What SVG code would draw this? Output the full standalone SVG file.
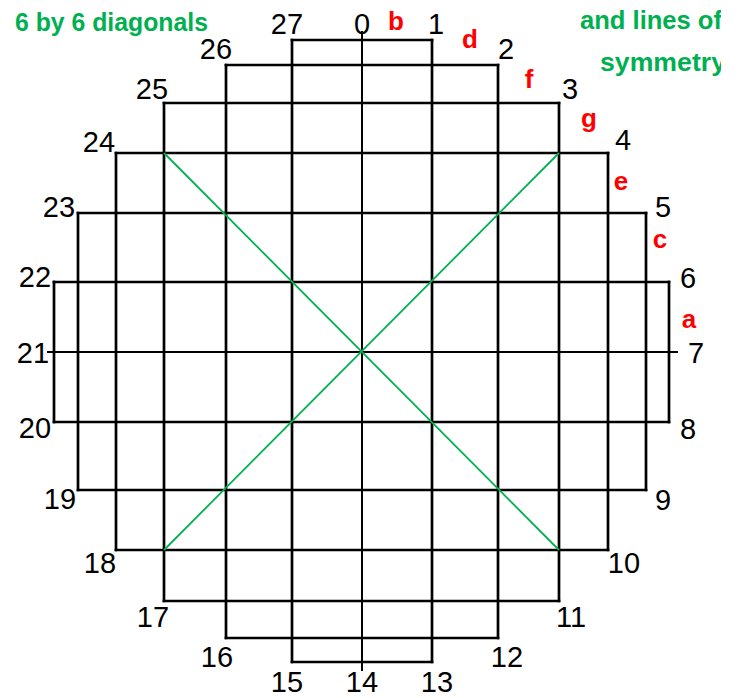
<svg xmlns="http://www.w3.org/2000/svg" width="743" height="698" viewBox="0 0 743 698">
<style>
.g{stroke:#000;stroke-width:2.7;stroke-linecap:square;fill:none}
.c{stroke:#000;stroke-width:2;fill:none}
.d{stroke:#00B050;stroke-width:1.8;fill:none}
.n{font-family:"Liberation Sans",Arial,sans-serif;font-size:29px;fill:#000;text-anchor:middle}
.r{font-family:"Liberation Sans",Arial,sans-serif;font-size:26px;font-weight:bold;fill:#FF0000;text-anchor:middle}
.t{font-family:"Liberation Sans",Arial,sans-serif;font-size:26px;font-weight:bold;fill:#00B050}
</style>
<defs><clipPath id="clipR"><rect x="0" y="0" width="721" height="698"/></clipPath></defs>
<rect width="743" height="698" fill="#fff"/>
<g id="grid">
<line class="g" x1="54" y1="282" x2="54" y2="422"/>
<line class="g" x1="78" y1="213" x2="78" y2="490"/>
<line class="g" x1="116" y1="153" x2="116" y2="550"/>
<line class="g" x1="164" y1="103" x2="164" y2="601"/>
<line class="g" x1="226" y1="65" x2="226" y2="638"/>
<line class="g" x1="292" y1="40" x2="292" y2="662"/>
<line class="g" x1="432" y1="40" x2="432" y2="662"/>
<line class="g" x1="498" y1="65" x2="498" y2="638"/>
<line class="g" x1="559" y1="103" x2="559" y2="601"/>
<line class="g" x1="608" y1="153" x2="608" y2="550"/>
<line class="g" x1="646" y1="213" x2="646" y2="490"/>
<line class="g" x1="669" y1="282" x2="669" y2="422"/>
<line class="g" x1="292" y1="40" x2="432" y2="40"/>
<line class="g" x1="226" y1="65" x2="498" y2="65"/>
<line class="g" x1="164" y1="103" x2="559" y2="103"/>
<line class="g" x1="116" y1="153" x2="608" y2="153"/>
<line class="g" x1="78" y1="213" x2="646" y2="213"/>
<line class="g" x1="54" y1="282" x2="669" y2="282"/>
<line class="g" x1="54" y1="422" x2="669" y2="422"/>
<line class="g" x1="78" y1="490" x2="646" y2="490"/>
<line class="g" x1="116" y1="550" x2="608" y2="550"/>
<line class="g" x1="164" y1="601" x2="559" y2="601"/>
<line class="g" x1="226" y1="638" x2="498" y2="638"/>
<line class="g" x1="292" y1="662" x2="432" y2="662"/>
</g>
<g id="symmetry-lines">
<line class="c" x1="362" y1="31" x2="362" y2="671"/>
<line class="c" x1="47" y1="352" x2="678" y2="352"/>
<line class="d" x1="164" y1="153" x2="559" y2="550"/>
<line class="d" x1="559" y1="153" x2="164" y2="550"/>
</g>
<g id="numbers">
<text class="n" x="362" y="34">0</text>
<text class="n" x="436" y="34">1</text>
<text class="n" x="506" y="59">2</text>
<text class="n" x="570" y="99">3</text>
<text class="n" x="623" y="150">4</text>
<text class="n" x="663" y="217">5</text>
<text class="n" x="688" y="288">6</text>
<text class="n" x="696" y="363">7</text>
<text class="n" x="688" y="439">8</text>
<text class="n" x="663" y="510">9</text>
<text class="n" x="624" y="573">10</text>
<text class="n" x="571" y="627">11</text>
<text class="n" x="507" y="667">12</text>
<text class="n" x="437" y="692">13</text>
<text class="n" x="362" y="692">14</text>
<text class="n" x="287" y="692">15</text>
<text class="n" x="217" y="667">16</text>
<text class="n" x="153" y="627">17</text>
<text class="n" x="100" y="573">18</text>
<text class="n" x="60" y="509">19</text>
<text class="n" x="35" y="438">20</text>
<text class="n" x="33" y="363">21</text>
<text class="n" x="35" y="287">22</text>
<text class="n" x="59" y="217">23</text>
<text class="n" x="99" y="152">24</text>
<text class="n" x="152" y="99">25</text>
<text class="n" x="216" y="59">26</text>
<text class="n" x="287" y="34">27</text>
</g>
<g id="letters">
<text class="r" x="396" y="30">b</text>
<text class="r" x="470" y="48">d</text>
<text class="r" x="529" y="88">f</text>
<text class="r" x="589" y="127">g</text>
<text class="r" x="621" y="190">e</text>
<text class="r" x="660" y="248">c</text>
<text class="r" x="689" y="328">a</text>
</g>
<g id="titles">
<text class="t" x="15" y="31" textLength="193" lengthAdjust="spacingAndGlyphs">6 by 6 diagonals</text>
<g clip-path="url(#clipR)">
<text class="t" x="580" y="29" textLength="142" lengthAdjust="spacingAndGlyphs">and lines of</text>
<text class="t" x="600" y="71" textLength="126" lengthAdjust="spacingAndGlyphs">symmetry</text>
</g>
</g>
</svg>
